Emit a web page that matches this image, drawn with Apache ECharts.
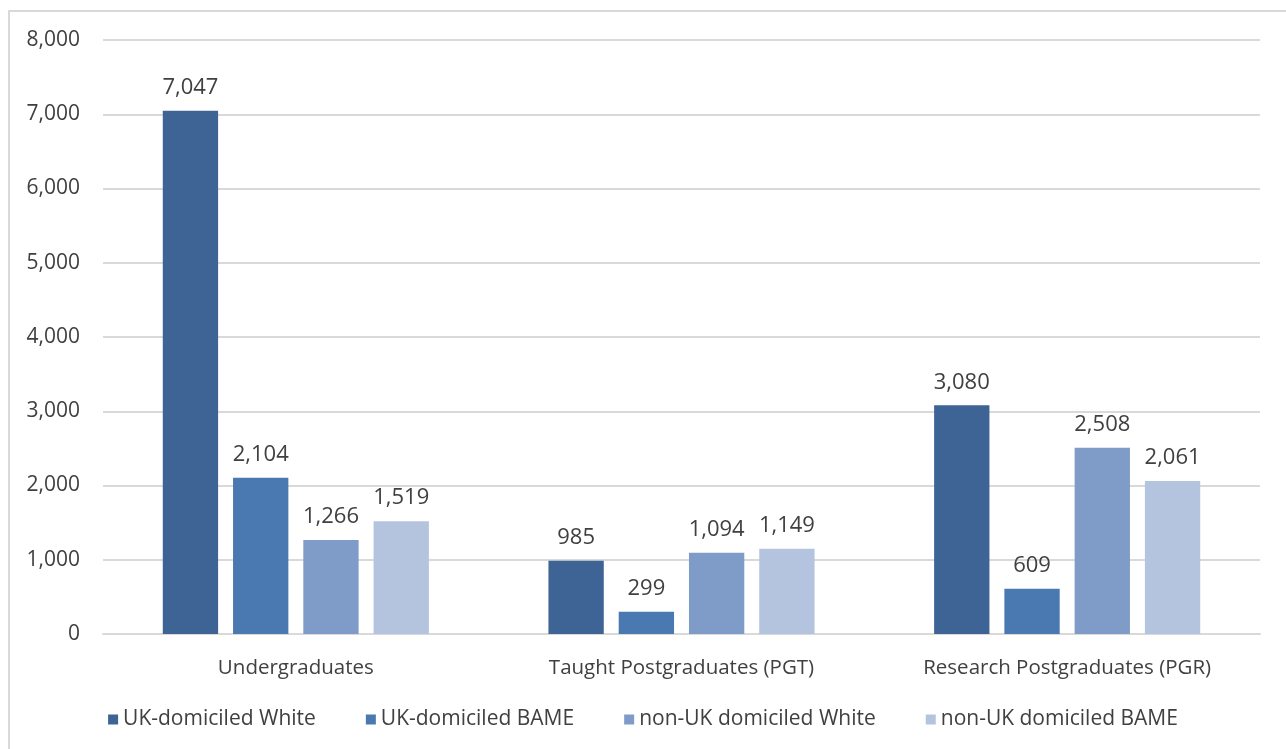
<!DOCTYPE html>
<html>
<head>
<meta charset="utf-8">
<script src="https://cdn.jsdelivr.net/npm/echarts@6/dist/echarts.min.js"></script>
<style>
  html, body { margin: 0; padding: 0; background: #fff; }
  #frame { position: absolute; left: 8px; top: 10px; width: 1300px; height: 760px; border: 2px solid #d9d9d9; box-sizing: border-box; }
  #chart { position: absolute; left: 0; top: 0; width: 1286px; height: 749px; }
</style>
</head>
<body>
<div id="frame"></div>
<div id="chart"></div>
<script>
// Student counts by level of study and domicile/ethnicity group
const categories = ['Undergraduates', 'Taught Postgraduates (PGT)', 'Research Postgraduates (PGR)'];
const seriesNames = ['UK-domiciled White', 'UK-domiciled BAME', 'non-UK domiciled White', 'non-UK domiciled BAME'];
const ukWhite = [7047, 985, 3080];
const ukBame = [2104, 299, 609];
const nonUkWhite = [1266, 1094, 2508];
const nonUkBame = [1519, 1149, 2061];
const seriesColors = ['#3d6494', '#4a78b0', '#7f9cc8', '#b4c3de'];

const font = '"Open Sans", "Noto Sans", sans-serif';
const fmt = v => v.toLocaleString('en-US');
const values = [ukWhite, ukBame, nonUkWhite, nonUkBame];

const chart = echarts.init(document.getElementById('chart'));
chart.setOption({
  animation: false,
  textStyle: { fontFamily: font },
  grid: { left: 103, right: 26, top: 40, bottom: 115 },
  legend: {
    bottom: 14,
    left: 'center',
    itemWidth: 10,
    itemHeight: 10,
    itemGap: 50,
    icon: 'rect',
    textStyle: { fontSize: 21, color: '#404040', fontFamily: font },
    data: seriesNames
  },
  xAxis: {
    type: 'category',
    data: categories,
    axisLine: { lineStyle: { color: '#d9d9d9', width: 2 } },
    axisTick: { show: false },
    axisLabel: { fontSize: 20.5, color: '#404040', margin: 24 }
  },
  yAxis: {
    type: 'value',
    min: 0,
    max: 8000,
    interval: 1000,
    axisLine: { show: false },
    axisTick: { show: false },
    splitLine: { lineStyle: { color: '#d9d9d9', width: 2 } },
    axisLabel: { fontSize: 21, color: '#404040', margin: 23, formatter: v => fmt(v) }
  },
  series: seriesNames.map((name, i) => ({
    name,
    type: 'bar',
    data: values[i],
    barGap: '27%',
    barCategoryGap: '31%',
    itemStyle: { color: seriesColors[i] },
    label: {
      show: true,
      position: 'top',
      distance: 12,
      fontSize: 22,
      color: '#404040',
      formatter: p => fmt(p.value)
    }
  }))
});
</script>
</body>
</html>
